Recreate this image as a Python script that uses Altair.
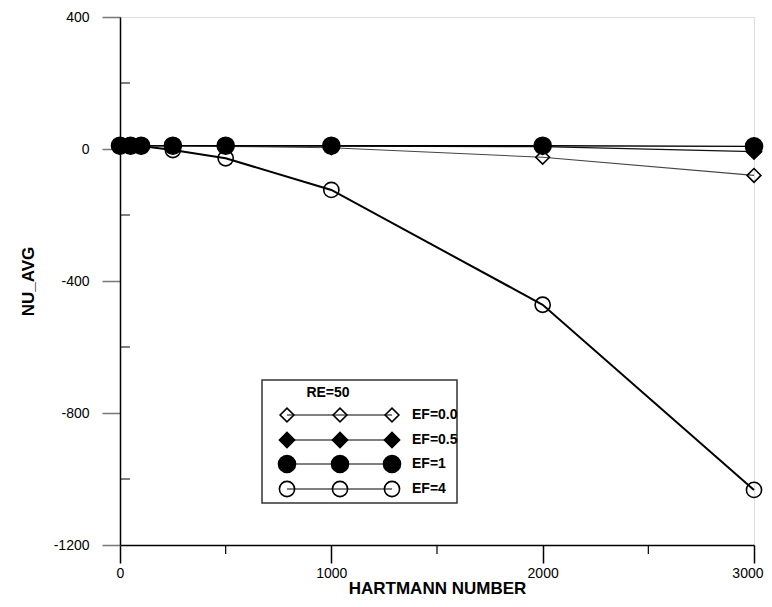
import altair as alt
import pandas as pd

# ---------------- data ----------------
HARTMANN = [0, 50, 100, 250, 500, 1000, 2000, 3000]
SERIES = ["EF=0.0", "EF=0.5", "EF=1", "EF=4"]
NU_EF_00 = [10, 10, 10, 10, 8, 4, -25, -80]
NU_EF_05 = [10, 10, 10, 10, 10, 9, 7, -8]
NU_EF_1 = [10, 10, 10, 10, 10, 10, 10, 8]
NU_EF_4 = [10, 10, 9, -3, -28, -124, -472, -1033]
VALUES = {"EF=0.0": NU_EF_00, "EF=0.5": NU_EF_05, "EF=1": NU_EF_1, "EF=4": NU_EF_4}

X_MAJOR = [0, 1000, 2000, 3000]
X_MINOR = [500, 1500, 2500]
Y_MAJOR = [-1200, -800, -400, 0, 400]
Y_MINOR = [-1000, -600, -200, 200]
LEGEND_TITLE = "RE=50"

rows = []
for s in SERIES:
    for h, v in zip(HARTMANN, VALUES[s]):
        rows.append({"series": s, "ha": h, "nu": v})
df = pd.DataFrame(rows)

# ---------------- styles ----------------
STYLE = {
    "EF=0.0": dict(shape="diamond", fill="transparent", size=190, lc="#444444", lw=1.1),
    "EF=0.5": dict(shape="diamond", fill="black", size=230, lc="#111111", lw=1.3),
    "EF=1": dict(shape="circle", fill="black", size=290, lc="black", lw=1.4),
    "EF=4": dict(shape="circle", fill="transparent", size=230, lc="black", lw=2.0),
}
DRAW_ORDER = ["EF=4", "EF=0.0", "EF=0.5", "EF=1"]
FONT = "Liberation Sans"
W, H = 634, 528

xs = alt.Scale(domain=[0, 3000], nice=False, zero=False)
ys = alt.Scale(domain=[-1200, 400], nice=False, zero=False)

last_x = X_MAJOR[-1]
x_axis = alt.Axis(values=X_MAJOR, tickSize=18, labelPadding=3, labelFontSize=14,
                  labelFont=FONT, labelColor="black", tickColor="black", domainColor="black",
                  tickWidth=1.5, domainWidth=1.5,
                  labelAlign={"condition": {"test": f"datum.value == {last_x}", "value": "right"},
                              "value": "center"},
                  labelOffset={"condition": {"test": f"datum.value == {last_x}", "value": 9},
                               "value": 0},
                  title="HARTMANN NUMBER", titleFont=FONT, titleFontSize=17, titleFontWeight="bold",
                  titleColor="black", titlePadding=0, grid=False,
                  labelExpr="'' + datum.value", labelFlush=False)
y_axis = alt.Axis(values=Y_MAJOR, tickSize=18, labelPadding=13, labelFontSize=14,
                  labelFont=FONT, labelColor="black", tickColor="#777777", domainColor="black",
                  tickWidth=1.5, domainWidth=1.5,
                  title="NU_AVG", titleFont=FONT, titleFontSize=17, titleFontWeight="bold",
                  titleColor="black", titlePadding=16, grid=False,
                  labelExpr="'' + datum.value", labelFlush=False)

layers = []

# axes carrier (invisible)
layers.append(
    alt.Chart(df).mark_point(opacity=0).encode(
        x=alt.X("ha:Q", scale=xs, axis=x_axis),
        y=alt.Y("nu:Q", scale=ys, axis=y_axis),
    )
)

# minor ticks
minor_x = pd.DataFrame({"ha": X_MINOR})
layers.append(
    alt.Chart(minor_x).mark_rule(color="black", strokeWidth=1.2).encode(
        x=alt.X("ha:Q", scale=xs, axis=None), y=alt.value(H), y2=alt.value(H + 9)
    )
)
minor_y = pd.DataFrame({"nu": Y_MINOR})
layers.append(
    alt.Chart(minor_y).mark_rule(color="black", strokeWidth=1).encode(
        y=alt.Y("nu:Q", scale=ys, axis=None), x=alt.value(0), x2=alt.value(10)
    )
)

# series
for s in DRAW_ORDER:
    st = STYLE[s]
    sub = alt.Chart(df).transform_filter(alt.datum.series == s)
    layers.append(
        sub.mark_line(color=st["lc"], strokeWidth=st["lw"]).encode(
            x=alt.X("ha:Q", scale=xs, axis=None), y=alt.Y("nu:Q", scale=ys, axis=None)
        )
    )
    layers.append(
        sub.mark_point(shape=st["shape"], size=st["size"], fill=st["fill"], fillOpacity=1,
                       stroke="black", strokeWidth=1.6, opacity=1).encode(
            x=alt.X("ha:Q", scale=xs, axis=None), y=alt.Y("nu:Q", scale=ys, axis=None)
        )
    )

# ---------------- legend (pixel layout) ----------------
BOX = dict(x=142, x2=337, y=363, y2=486)
MARK_X = [167, 220, 272]
LABEL_X = 292
ROW_Y = {"EF=0.0": 398, "EF=0.5": 423, "EF=1": 447, "EF=4": 472}

layers.append(
    alt.Chart(pd.DataFrame({"a": [0]})).mark_rect(fill="white", stroke="#333333", strokeWidth=1.5).encode(
        x=alt.value(BOX["x"]), x2=alt.value(BOX["x2"]), y=alt.value(BOX["y"]), y2=alt.value(BOX["y2"])
    )
)
layers.append(
    alt.Chart(pd.DataFrame({"t": [LEGEND_TITLE]})).mark_text(
        font=FONT, fontSize=14, fontWeight="bold", color="black", align="center", baseline="middle"
    ).encode(x=alt.value(208), y=alt.value(376), text="t:N")
)
leg_rows = pd.DataFrame({"series": SERIES, "py": [ROW_Y[s] for s in SERIES]})
layers.append(
    alt.Chart(leg_rows).mark_rule(color="black", strokeWidth=1).encode(
        x=alt.value(MARK_X[0]), x2=alt.value(MARK_X[-1]), y=alt.Y("py:Q", scale=None, axis=None)
    )
)
layers.append(
    alt.Chart(leg_rows).mark_text(font=FONT, fontSize=14, fontWeight="bold", color="black",
                                  align="left", baseline="middle").encode(
        x=alt.value(LABEL_X), y=alt.Y("py:Q", scale=None, axis=None), text="series:N"
    )
)
for s in SERIES:
    st = STYLE[s]
    pts = pd.DataFrame({"px": MARK_X, "py": [ROW_Y[s]] * len(MARK_X)})
    layers.append(
        alt.Chart(pts).mark_point(shape=st["shape"], size=st["size"], fill=st["fill"], fillOpacity=1,
                                  stroke="black", strokeWidth=1.6, opacity=1).encode(
            x=alt.X("px:Q", scale=None, axis=None), y=alt.Y("py:Q", scale=None, axis=None)
        )
    )

chart = alt.layer(*layers).resolve_scale(x="independent", y="independent").properties(
    width=W, height=H,
    autosize=alt.AutoSizeParams(type="none"),
    padding={"left": 112, "top": 9, "right": 10, "bottom": 52},
).configure_view(stroke="#555555", strokeWidth=1.5).configure(background="white")

chart.save("out.html", embed_options={"renderer": "svg", "actions": False})
